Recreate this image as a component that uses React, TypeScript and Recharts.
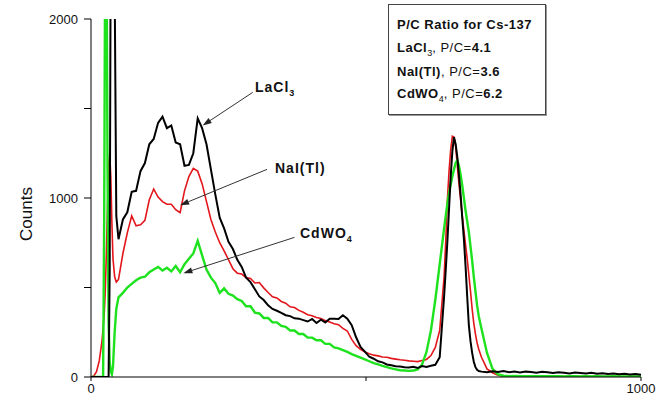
import React from 'react';
import { LineChart, Line, XAxis, YAxis, ReferenceLine } from 'recharts';

// channel numbers (x), finer near the spikes and the 662 keV photopeak
const channels = [
  0, 5, 10, 15, 20, 22, 24, 26, 28, 30, 32, 34, 36, 38, 40, 43, 46,
  50, 58, 66, 74, 82, 90, 98, 106, 114, 122,
  130, 138, 146, 154, 162, 170, 178, 186, 194, 202,
  210, 218, 226, 234, 242, 250, 258, 266, 274, 282,
  290, 298, 306, 314, 322, 330, 338, 346, 354, 362,
  370, 378, 386, 394, 402, 410, 418, 426, 434, 442,
  450, 458, 466, 474, 482, 490, 498, 506, 514, 522,
  530, 538, 546, 554, 562, 570, 578, 586, 594, 602,
  610, 618, 626, 634, 642,
  645, 648, 651, 654, 657, 660, 663, 666, 669, 672, 675, 678, 681, 684, 687, 690, 693, 696, 699, 702, 705,
  710, 720, 730, 740, 750, 760, 770, 780, 790, 800,
  810, 820, 830, 840, 850, 860, 870, 880, 890, 900,
  910, 920, 930, 940, 950, 960, 970, 980, 990, 1000,
];

const laclCounts = [
  0, 0, 0, 0, 0, 0, 0, 0, 0, 0, 0, 600, 2600, 2600, 2600, 2200, 900,
  770, 880, 920, 1035, 1040, 1150, 1195, 1300, 1330, 1420,
  1455, 1390, 1405, 1310, 1300, 1180, 1185, 1250, 1445, 1390,
  1300, 1160, 1020, 890, 830, 755, 715, 655, 615, 555,
  530, 490, 450, 430, 400, 380, 370, 358, 345, 340,
  328, 326, 318, 310, 324, 302, 320, 305, 325, 326,
  324, 345, 326, 290, 222, 168, 142, 113, 102, 88,
  82, 70, 66, 60, 59, 54, 53, 57, 50, 61,
  56, 63, 68, 110, 450,
  600, 760, 940, 1120, 1260, 1340, 1300, 1230, 1130, 1020, 890, 770, 620, 450, 290, 200, 135, 85, 55, 40, 33,
  30, 26, 32, 28, 34, 27, 31, 25, 30, 28,
  24, 29, 26, 22, 27, 24, 20, 25, 22, 19,
  23, 18, 21, 17, 20, 16, 18, 14, 17, 12,
];

const naiCounts = [
  0, 5, 30, 90, 200, 270, 350, 480, 700, 950, 1180, 1250, 1120, 860, 660, 560, 530,
  545, 690, 805, 900, 845, 850, 875, 990, 1050, 1005,
  980, 965, 965, 935, 918, 1040, 1120, 1165, 1150, 1080,
  980, 880, 810, 750, 705, 655, 605, 580, 575, 555,
  550, 525, 528, 498, 472, 448, 442, 422, 412, 392,
  388, 372, 362, 348, 342, 332, 327, 315, 307, 298,
  292, 272, 257, 210, 175, 155, 140, 130, 122, 118,
  112, 110, 104, 100, 96, 94, 90, 88, 86, 92,
  98, 120, 165, 260, 560,
  760, 990, 1150, 1270, 1345, 1340, 1290, 1180, 1080, 990, 900, 820, 740, 660, 570, 480, 380, 300, 240, 190, 155,
  110, 45, 24, 10, 5, 3, 2, 3, 2, 2,
  3, 2, 2, 2, 3, 2, 2, 2, 2, 3,
  2, 2, 2, 2, 2, 2, 2, 2, 2, 2,
];

const cdwoCounts = [
  0, 0, 0, 0, 0, 0, 900, 2600, 2600, 1200, 300, 80, 30, 15, 60, 250, 380,
  445, 470, 500, 520, 540, 555, 560, 585, 600, 615,
  595, 610, 590, 620, 585, 630, 660, 690, 760, 680,
  600, 555, 525, 470, 495, 465, 455, 435, 425, 395,
  395, 360, 355, 330, 330, 305, 305, 285, 280, 260,
  260, 240, 240, 220, 220, 205, 205, 185, 185, 165,
  160, 150, 140, 128, 118, 108, 98, 88, 78, 70,
  62, 55, 48, 43, 38, 36, 34, 36, 42, 70,
  140, 260, 430, 630, 830,
  900, 970, 1030, 1075, 1120, 1160, 1195, 1210, 1180, 1130, 1070, 1000, 930, 870, 810, 730, 650, 560, 480, 400, 340,
  270, 134, 45, 15, 7, 5, 6, 4, 5, 4,
  5, 4, 4, 5, 4, 3, 4, 4, 3, 4,
  3, 4, 3, 3, 4, 3, 3, 3, 3, 3,
];

const xTicks = [0, 500, 1000];
const xTickLabels = ['0', '', '1000'];
const yTicks = [0, 500, 1000, 1500, 2000];
const yTickLabels = ['0', '', '1000', '', '2000'];

// arrow start (near label) and tip (on curve), in channel / counts
const pointerFrom = [{ x: 294, y: 1590 }, { x: 320, y: 1160 }, { x: 370, y: 780 }];
const pointerTo = [{ x: 203, y: 1405 }, { x: 162, y: 960 }, { x: 168, y: 580 }];

const data = channels.map((ch, i) => ({
  ch,
  lacl: laclCounts[i],
  nai: naiCounts[i],
  cdwo: cdwoCounts[i],
}));

const FONT = '"Liberation Sans", Arial, sans-serif';

function Arrow(props: any) {
  const { x1, y1, x2, y2 } = props;
  const ang = Math.atan2(y2 - y1, x2 - x1);
  const len = 9;
  const w = 3;
  const bx = x2 - len * Math.cos(ang);
  const by = y2 - len * Math.sin(ang);
  const pts = `${x2},${y2} ${bx + w * Math.sin(ang)},${by - w * Math.cos(ang)} ${bx - w * Math.sin(ang)},${by + w * Math.cos(ang)}`;
  return (
    <g>
      <line x1={x1} y1={y1} x2={bx} y2={by} stroke="#333" strokeWidth={1} />
      <polygon points={pts} fill="#222" />
    </g>
  );
}

const labelStyle: React.CSSProperties = {
  position: 'absolute',
  fontFamily: FONT,
  fontWeight: 'bold',
  fontSize: 14,
  letterSpacing: 1,
  lineHeight: '16px',
  color: '#111',
  whiteSpace: 'nowrap',
};

const subStyle: React.CSSProperties = { fontSize: 9, verticalAlign: -4, letterSpacing: 0 };

export default function App() {
  return (
    <div style={{ position: 'absolute', left: 0, top: 0, width: 659, height: 401, background: '#fff', fontFamily: FONT }}>
      <LineChart width={659} height={401} data={data} margin={{ top: 19, right: 18, bottom: 0, left: 0 }}>
        <XAxis
          dataKey="ch"
          type="number"
          domain={[0, 1000]}
          ticks={xTicks}
          tickFormatter={(v) => xTickLabels[xTicks.indexOf(v)] ?? ''}
          height={24}
          tickSize={4}
          tickMargin={3}
          stroke="#000"
          tick={{ fill: '#111', fontSize: 13, fontFamily: FONT }}
        />
        <YAxis
          type="number"
          domain={[0, 2000]}
          allowDataOverflow
          ticks={yTicks}
          tickFormatter={(v) => yTickLabels[yTicks.indexOf(v)] ?? ''}
          width={91}
          tickSize={7}
          tickMargin={6}
          stroke="#000"
          tick={{ fill: '#111', fontSize: 13, fontFamily: FONT }}
        />
        <Line type="linear" dataKey="nai" stroke="#e3161b" strokeWidth={1.6} dot={false} isAnimationActive={false} />
        <Line type="linear" dataKey="cdwo" stroke="#1de21d" strokeWidth={2.4} dot={false} isAnimationActive={false} />
        <Line type="linear" dataKey="lacl" stroke="#000" strokeWidth={2} dot={false} isAnimationActive={false} />
        {pointerFrom.map((p, i) => (
          <ReferenceLine key={i} segment={[p, pointerTo[i]]} ifOverflow="visible" shape={Arrow} />
        ))}
      </LineChart>

      <div
        style={{
          position: 'absolute', left: 27, top: 214, transform: 'translate(-50%, -50%) rotate(-90deg)',
          fontSize: 17, color: '#111', whiteSpace: 'nowrap',
        }}
      >
        Counts
      </div>

      <div style={{ ...labelStyle, left: 255, top: 79 }}>
        LaCl<span style={subStyle}>3</span>
      </div>
      <div style={{ ...labelStyle, left: 275, top: 160 }}>NaI(Tl)</div>
      <div style={{ ...labelStyle, left: 300, top: 225 }}>
        CdWO<span style={subStyle}>4</span>
      </div>

      <div
        style={{
          position: 'absolute', left: 388, top: 4, width: 156, height: 109,
          border: '1px solid #444', boxShadow: '1px 1px 0 #999', background: '#fff',
          fontSize: 13, color: '#111', lineHeight: '16px',
        }}
      >
        <div style={{ position: 'absolute', left: 8, top: 12, fontWeight: 'bold', letterSpacing: 0.5, whiteSpace: 'nowrap' }}>
          P/C Ratio for Cs-137
        </div>
        <div style={{ position: 'absolute', left: 8, top: 35, whiteSpace: 'nowrap', letterSpacing: 0.5 }}>
          <b>LaCl</b><span style={subStyle}>3</span>, P/C=<b>4.1</b>
        </div>
        <div style={{ position: 'absolute', left: 8, top: 59, whiteSpace: 'nowrap', letterSpacing: 0.5 }}>
          <b>NaI(Tl)</b>, P/C=<b>3.6</b>
        </div>
        <div style={{ position: 'absolute', left: 8, top: 81, whiteSpace: 'nowrap', letterSpacing: 0.5 }}>
          <b>CdWO</b><span style={subStyle}>4</span>, P/C=<b>6.2</b>
        </div>
      </div>
    </div>
  );
}
